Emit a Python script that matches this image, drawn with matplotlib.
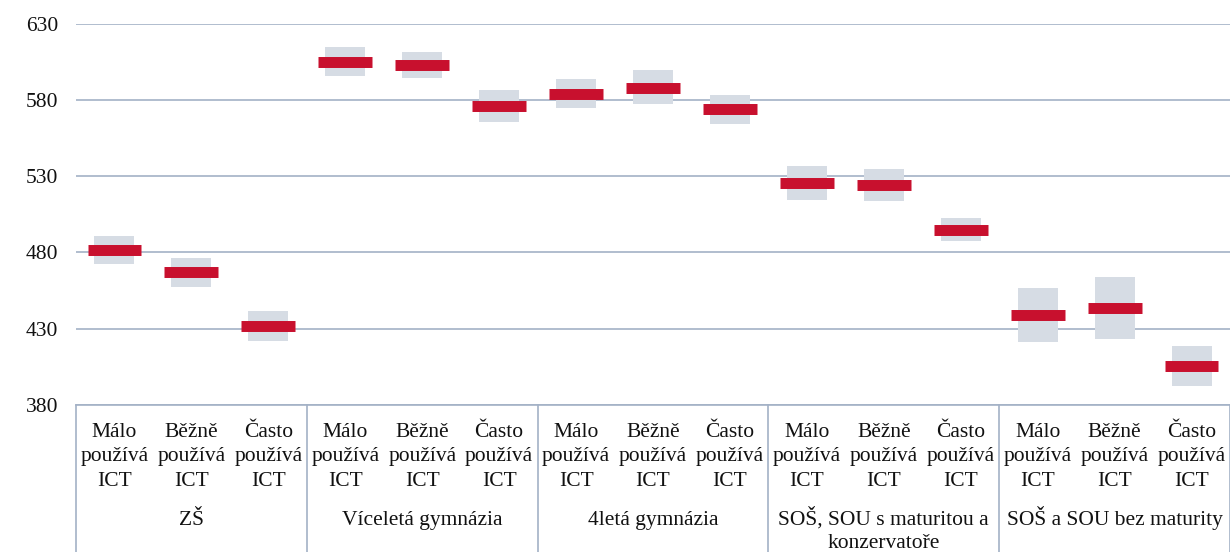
import matplotlib
matplotlib.use("Agg")
import matplotlib.pyplot as plt
import numpy as np

# data
groups = ["ZŠ", "Víceletá gymnázia", "4letá gymnázia",
          "SOŠ, SOU s maturitou a\nkonzervatoře", "SOŠ a SOU bez maturity"]
levels = ["Málo\npoužívá\nICT", "Běžně\npoužívá\nICT", "Často\npoužívá\nICT"]
means = [481.5, 467, 432, 605, 603, 576, 584, 588, 574, 525.5, 524, 495, 439, 443.5, 405.5]
ci_low = [472.5, 457.5, 421.7, 595.7, 594.7, 565.8, 575, 577.4, 564.3, 514.4, 513.8, 487.6, 421.2, 423, 392.6]
ci_high = [490.7, 476.5, 441.7, 614.5, 611.5, 586.6, 593.5, 599.5, 583.3, 536.7, 534.8, 502.6, 456.6, 464.2, 418.8]
yticks = [380, 430, 480, 530, 580, 630]

red = "#C8102E"
grey = "#D6DCE4"
line_col = "#A3B1C6"
txt_col = "#111111"

plt.rcParams['font.family'] = ['Liberation Serif', 'DejaVu Serif']

W, H = 1230, 552
fig = plt.figure(figsize=(W / 100, H / 100), dpi=100)
top_px, bot_px, left_px = 23.7, 405, 76
ax = fig.add_axes([left_px / W, (H - bot_px) / H, (W - left_px) / W, (bot_px - top_px) / H])

n = len(means)
x = np.arange(n)
lo = np.array(ci_low)
hi = np.array(ci_high)
# grey confidence box, red mean line
ax.bar(x, hi - lo, bottom=lo, width=0.52, color=grey, zorder=2)
ax.hlines(means, x - 0.35, x + 0.35, colors=red, linewidth=7.9, zorder=3)

ax.set_xlim(-0.5, n - 0.5)
ax.set_ylim(380, 630)
ax.set_yticks(yticks)
ax.yaxis.grid(True, color=line_col, linewidth=1.2, zorder=1)
ax.set_axisbelow(True)
for s in ["top", "right", "left"]:
    ax.spines[s].set_visible(False)
ax.spines["bottom"].set_color(line_col)
ax.spines["bottom"].set_linewidth(1.2)
ax.set_xticks([])
ax.tick_params(axis="y", length=0, pad=13, labelsize=15.5, labelcolor=txt_col)

# two level category table under the axis
ax_h = bot_px - top_px
trans = ax.get_xaxis_transform()


def ypos(px):
    return -(px - bot_px) / ax_h


for gx in np.arange(-0.5, n, 3):
    ax.plot([gx, gx], [0, ypos(H)], color=line_col, lw=1.2, transform=trans, clip_on=False)

for i in range(n):
    for k, line in enumerate(levels[i % 3].split("\n")):
        ax.text(i, ypos(437 + 24.5 * k), line, transform=trans, ha="center",
                va="baseline", fontsize=15.5, color=txt_col)
for g, name in enumerate(groups):
    for k, line in enumerate(name.split("\n")):
        ax.text(3 * g + 1, ypos(525 + 23 * k), line, transform=trans, ha="center",
                va="baseline", fontsize=15.5, color=txt_col)

fig.savefig("out.png", dpi=100)
